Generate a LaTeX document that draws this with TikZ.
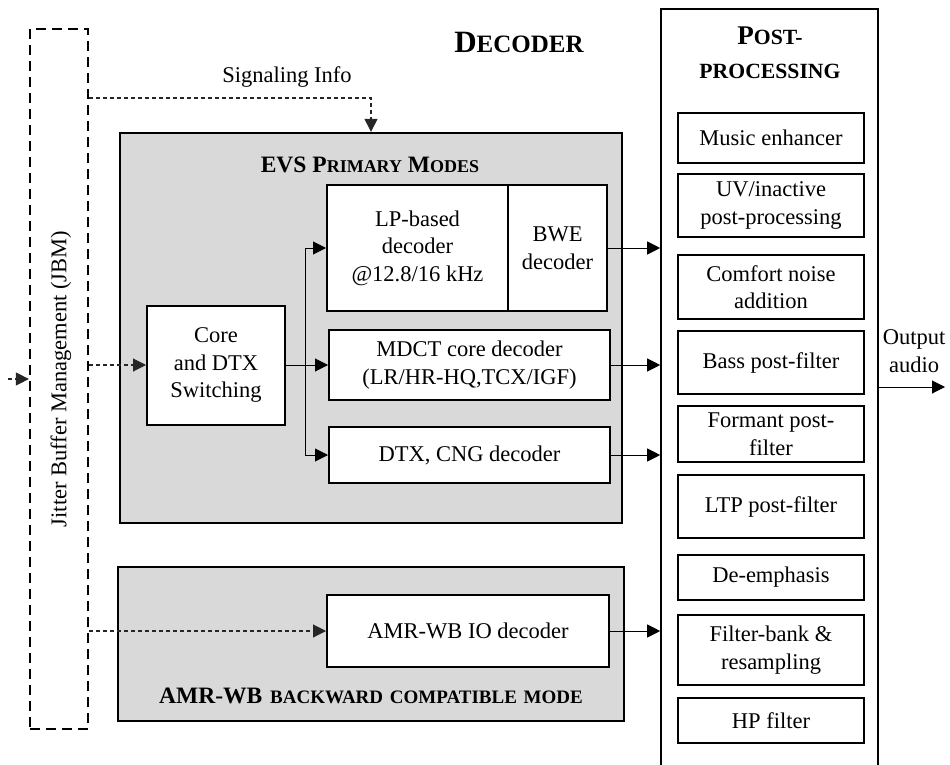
\documentclass[tikz,border=0pt]{standalone}
\usepackage{fontspec}
\setmainfont{Liberation Serif}
\usepackage{tikz}
\usetikzlibrary{positioning, arrows.meta, calc}
\newcommand{\bodyfont}{\fontsize{22.5}{27.5}\selectfont}
\newcommand{\smallcap}[1]{{\fontsize{18}{22}\selectfont #1}}

\begin{document}
\begin{tikzpicture}[x=1pt, y=-1pt,
    every node/.style={font=\bodyfont, inner sep=0pt},
    blk/.style={draw, line width=2pt, fill=white, align=center},
    modebox/.style={draw, line width=2.3pt, fill=black!15},
    ppbox/.style={blk, minimum width=186pt},
    arr/.style={line width=1pt, -{Triangle[length=13pt, width=13pt]}},
    sig/.style={arr, black!85, line width=1.1pt, dash pattern=on 4pt off 3pt},
    ttl/.style={font=\bfseries\fontsize{23.5}{28}\selectfont, align=center}]
    % Decoder-Uebersicht
    \useasboundingbox (0,0) rectangle (950,765);
    \clip (0,0) rectangle (950,765);

    \node[draw, line width=2.2pt, dash pattern=on 10pt off 6pt, minimum width=58pt, minimum height=700pt] (jbm) at (59,379) {};
    \node[rotate=90] (jbmtxt) at (61,379) {Jitter Buffer Management (JBM)};

    \node[modebox, minimum width=502pt, minimum height=390pt] (evs) at (371,328) {};
    \node[modebox, minimum width=506pt, minimum height=154pt] (amr) at (371,644) {};
    \node[draw, line width=1.6pt, minimum width=217pt, minimum height=771pt] (post) at (769.5,394.5) {};

    \node[ttl] (decttl) at (519,42) {{\fontsize{31}{31}\selectfont D}{\fontsize{25}{25}\selectfont ECODER}};
    \node[ttl] (evsttl) at (370,165) {EVS P\smallcap{RIMARY} M\smallcap{ODES}};
    \node[ttl, anchor=base] (amrttl) at (371,703) {AMR-WB\hspace{2pt} {\fontsize{19}{22}\selectfont BACKWARD\hspace{2pt} COMPATIBLE\hspace{2pt} MODE}};
    \node[ttl, font=\bfseries\fontsize{21.7}{34}\selectfont] (postttl) at (770,53) {{\fontsize{27}{34}\selectfont P}OST-\\PROCESSING};

    \node[blk, minimum width=138pt, minimum height=119pt] (core) at (216,365) {Core\\and DTX\\Switching};
    \node[blk, minimum width=181pt, minimum height=126pt] (lp) at (417.5,248) {LP-based\\decoder\\@12.8/16 kHz};
    \node[blk, minimum width=99pt, minimum height=126pt, right=-2pt of lp] (bwe) {BWE\\decoder};
    \node[blk, minimum width=281pt, minimum height=70pt] (mdct) at (469.5,365) {MDCT core decoder\\(LR/HR-HQ,TCX/IGF)};
    \node[blk, minimum width=281pt, minimum height=56pt] (dtx) at (469.5,455) {DTX, CNG decoder};
    \node[blk, minimum width=282pt, minimum height=72pt] (amrdec) at (468,631) {AMR-WB IO decoder};

    \foreach \y/\h/\txt [count=\i] in {138/50/{Music enhancer}, 205.5/63/{UV/inactive\\post-processing},
        287/64/{Comfort noise\\addition}, 362.5/63/{Bass post-filter}, 434/56/{Formant post-\\filter},
        506.5/63/{LTP post-filter}, 577.5/45/{De-emphasis}, 650/70/{Filter-bank \&\\resampling}, 720.5/45/{HP filter}} {
        \node[ppbox, minimum height=\h pt] (pp\i) at (771,\y) {\txt};
    }

    \coordinate (split) at (305,365);
    \draw[line width=1pt] (core.east) -- (split);
    \draw[arr] (split) -- (mdct.west);
    \draw[arr] (split) |- (lp.west);
    \draw[arr] (split) |- (dtx.west);

    \draw[sig] (jbm.east |- core.west) -- (core.west);
    \draw[sig] (jbm.east |- amrdec.west) -- (amrdec.west);
    \coordinate (sigturn) at (371,98);
    \draw[sig] (jbm.east |- sigturn) -- (sigturn) -- (sigturn |- evs.north);
    \node (sigtxt) at (287,77) {Signaling Info};
    \coordinate (input) at (8,379);
    \draw[sig] (input) -- (input -| jbm.west);

    \foreach \src in {bwe, mdct, dtx, amrdec}
        \draw[arr] (\src.east) -- (\src.east -| post.west);
    \coordinate (out) at (945,387);
    \draw[arr] (out -| post.east) -- (out);
    \node[align=center] (outtxt) at (914,351) {Output\\audio};
\end{tikzpicture}
\end{document}
